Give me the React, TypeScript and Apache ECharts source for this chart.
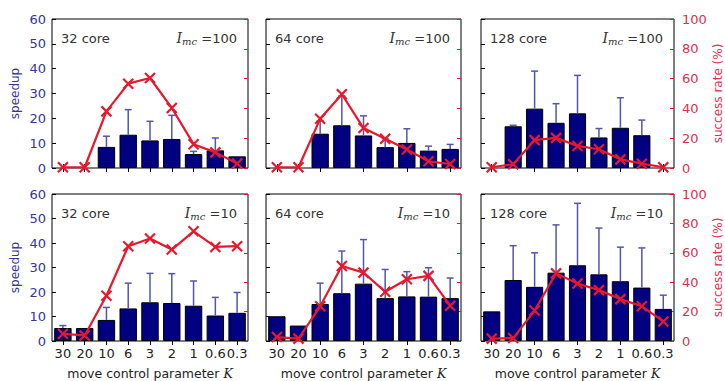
import React, { useEffect, useRef } from "react";
import * as echarts from "echarts";

const categories = ["30", "20", "10", "6", "3", "2", "1", "0.6", "0.3"];

const speedup32_100 = [0, 0, 8.5, 13.4, 11.1, 11.7, 5.6, 7.1, 4.7];
const errTop32_100 = [0, 0, 12.8, 23.5, 18.8, 21.2, 6.7, 12.1, 0];
const success32_100 = [0.5, 0.5, 38, 56.6, 60.4, 40.3, 16, 10.5, 3];

const speedup64_100 = [0, 0, 13.8, 17.2, 13.1, 8.4, 10.1, 7, 7.7];
const errTop64_100 = [0, 0, 19, 29, 21, 11.8, 15.8, 8.8, 9.5];
const success64_100 = [0.5, 0.5, 33, 49.5, 26.8, 19.6, 12.4, 4.5, 2.7];

const speedup128_100 = [0, 16.8, 23.9, 18.2, 22, 12.3, 16.2, 13.2, 0];
const errTop128_100 = [0, 17.2, 39, 25.9, 37.3, 15.9, 28.3, 19.3, 0];
const success128_100 = [0.5, 2.5, 18.7, 20.2, 14.8, 12.6, 5.8, 2.9, 0.5];

const speedup32_10 = [5.3, 5.3, 8.6, 13.3, 15.8, 15.5, 14.4, 10.4, 11.5];
const errTop32_10 = [6.3, 0, 13.7, 23.6, 27.6, 27.5, 24.5, 17.8, 19.8];
const success32_10 = [4.9, 3.8, 30.8, 64.5, 69.7, 62.2, 74.6, 64, 64.5];

const speedup64_10 = [10.1, 6.3, 15.1, 19.5, 23.4, 17.5, 18.2, 18.1, 17.5];
const errTop64_10 = [0, 0, 23.6, 36.7, 41.4, 29.2, 28.3, 29.9, 25.7];
const success64_10 = [2.7, 1.6, 23.6, 51, 46.5, 33.5, 42, 44.3, 24];

const speedup128_10 = [12.1, 24.9, 22.1, 27.9, 30.9, 27.2, 24.4, 21.8, 13.1];
const errTop128_10 = [0, 38.9, 36, 47.4, 56.2, 46.1, 38.3, 38, 18.7];
const success128_10 = [1.6, 2, 20.7, 46, 39.1, 34.6, 28.5, 23.6, 13.3];

const coreLabels = ["32 core", "64 core", "128 core", "32 core", "64 core", "128 core"];
const imcLabels = ["100", "100", "100", "10", "10", "10"];

const panels = [
  { speed: speedup32_100, err: errTop32_100, succ: success32_100 },
  { speed: speedup64_100, err: errTop64_100, succ: success64_100 },
  { speed: speedup128_100, err: errTop128_100, succ: success128_100 },
  { speed: speedup32_10, err: errTop32_10, succ: success32_10 },
  { speed: speedup64_10, err: errTop64_10, succ: success64_10 },
  { speed: speedup128_10, err: errTop128_10, succ: success128_10 },
];

const FONT = "DejaVu Sans";
const BLUE_TXT = "#36369a";
const RED_TXT = "#e0304f";
const RED = "#e8182c";
const NAVY = "#000080";
const ERR = "#5555b0";

const colLeft = [52, 266, 481];
const colWidth = [196, 195, 193];
const rowTop = [19, 194];
const rowHeight = [149, 148];

export default function App() {
  const ref = useRef<HTMLDivElement>(null);
  useEffect(() => {
    if (!ref.current) return;
    const chart = echarts.init(ref.current, null, { renderer: "svg" });
    const grids: any[] = [];
    const xAxes: any[] = [];
    const yAxes: any[] = [];
    const series: any[] = [];
    const graphics: any[] = [];

    panels.forEach((p, i) => {
      const row = Math.floor(i / 3);
      const col = i % 3;
      const left = colLeft[col];
      const top = rowTop[row];
      const w = colWidth[col];
      const h = rowHeight[row];
      grids.push({
        left,
        top,
        width: w,
        height: h,
        show: true,
        borderColor: "#000",
        borderWidth: 1,
        backgroundColor: "transparent",
        containLabel: false,
      });
      const isBottom = row === 1;
      xAxes.push({
        type: "category",
        gridIndex: i,
        data: categories,
        position: "bottom",
        axisLine: { show: false },
        axisTick: { show: true, inside: true, alignWithLabel: true, length: 4, lineStyle: { color: "#000" } },
        axisLabel: {
          show: isBottom,
          interval: 0,
          color: "#222",
          fontFamily: FONT,
          fontSize: 13,
          margin: 6,
        },
        name: isBottom ? "move control parameter {k|K}" : "",
        nameLocation: "middle",
        nameGap: 26,
        nameTextStyle: {
          color: "#222",
          fontFamily: FONT,
          fontSize: 12.5,
          rich: { k: { fontStyle: "italic", fontFamily: "DejaVu Serif", fontSize: 12.5, color: "#222" } },
        },
      });
      xAxes.push({
        type: "category",
        gridIndex: i,
        data: categories,
        position: "top",
        axisLine: { show: false },
        axisTick: { show: true, inside: true, alignWithLabel: true, length: 4, lineStyle: { color: "#000" } },
        axisLabel: { show: false },
      });
      yAxes.push({
        type: "value",
        gridIndex: i,
        min: 0,
        max: 60,
        interval: 10,
        position: "left",
        axisLine: { show: false },
        splitLine: { show: false },
        axisTick: { show: true, inside: true, length: 4, lineStyle: { color: "#000" } },
        axisLabel: {
          show: col === 0,
          color: BLUE_TXT,
          fontFamily: FONT,
          fontSize: 13,
          margin: 6,
        },
        name: col === 0 ? "speedup" : "",
        nameLocation: "middle",
        nameGap: 31,
        nameRotate: 90,
        nameTextStyle: { color: BLUE_TXT, fontFamily: FONT, fontSize: 12 },
      });
      yAxes.push({
        type: "value",
        gridIndex: i,
        min: 0,
        max: 100,
        interval: 20,
        position: "right",
        axisLine: { show: false },
        splitLine: { show: false },
        axisTick: { show: true, inside: true, length: 4, lineStyle: { color: RED } },
        axisLabel: {
          show: col === 2,
          color: RED_TXT,
          fontFamily: FONT,
          fontSize: 13,
          margin: 8,
        },
        name: col === 2 ? "success rate (%)" : "",
        nameLocation: "middle",
        nameGap: 38,
        nameRotate: 90,
        nameTextStyle: { color: RED_TXT, fontFamily: FONT, fontSize: 12 },
      });

      series.push({
        type: "bar",
        xAxisIndex: 2 * i,
        yAxisIndex: 2 * i,
        data: p.speed.map((v) => (v > 0 ? v : null)),
        barWidth: "80%",
        itemStyle: { color: NAVY, borderColor: "#000", borderWidth: 1 },
        z: 2,
      });
      const errData: any[] = [];
      p.err.forEach((e, k) => {
        if (e > p.speed[k]) errData.push([k, p.speed[k], e]);
      });
      series.push({
        type: "custom",
        xAxisIndex: 2 * i,
        yAxisIndex: 2 * i,
        data: errData,
        encode: { x: 0, y: [1, 2] },
        z: 3,
        renderItem: (params: any, api: any) => {
          const x = api.value(0);
          const lo = api.coord([x, api.value(1)]);
          const hi = api.coord([x, api.value(2)]);
          const hw = 3.5;
          const style = { stroke: ERR, lineWidth: 1.5 };
          return {
            type: "group",
            children: [
              { type: "line", shape: { x1: lo[0], y1: lo[1], x2: hi[0], y2: hi[1] }, style },
              { type: "line", shape: { x1: hi[0] - hw, y1: hi[1], x2: hi[0] + hw, y2: hi[1] }, style },
            ],
          };
        },
      });
      series.push({
        type: "line",
        xAxisIndex: 2 * i,
        yAxisIndex: 2 * i + 1,
        data: p.succ,
        symbol: "path://M0,0L10,10M10,0L0,10",
        symbolSize: 10,
        lineStyle: { color: RED, width: 2.2 },
        itemStyle: { color: RED, borderColor: RED, borderWidth: 2.2 },
        z: 4,
      });

      graphics.push({
        type: "text",
        left: left + 9,
        top: top + 13,
        style: { text: coreLabels[i], font: `13px "${FONT}"`, fill: "#333" },
        z: 10,
      });
      graphics.push({
        type: "text",
        right: 725 - (left + w) + 11,
        top: top + 12,
        style: {
          text: `{i|I}{s|mc}{e| =${imcLabels[i]}}`,
          rich: {
            i: { fontFamily: "DejaVu Serif", fontStyle: "italic", fontSize: 14, fill: "#333" },
            s: { fontFamily: "DejaVu Serif", fontStyle: "italic", fontSize: 10, fill: "#333", padding: [6, 0, 0, 0] },
            e: { fontFamily: FONT, fontSize: 13, fill: "#333" },
          },
        },
        z: 10,
      });
    });

    chart.setOption({
      animation: false,
      backgroundColor: "#fff",
      grid: grids,
      xAxis: xAxes,
      yAxis: yAxes,
      series,
      graphic: graphics,
    });
    return () => chart.dispose();
  }, []);
  return <div ref={ref} style={{ width: 725, height: 381, position: "absolute", left: 0, top: 0 }} />;
}
